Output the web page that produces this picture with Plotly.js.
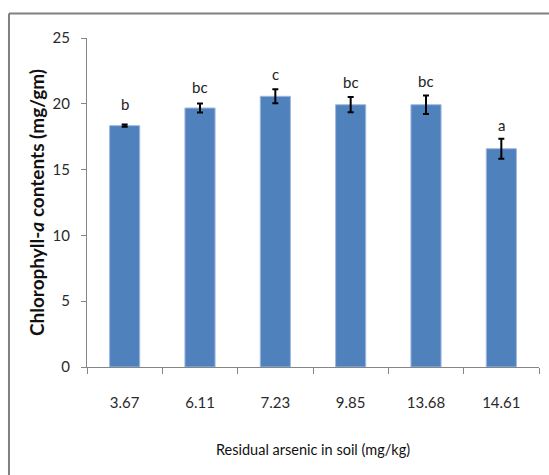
<!DOCTYPE html>
<html>
<head>
<meta charset="utf-8">
<script src="https://cdn.plot.ly/plotly-3.0.1.min.js"></script>
<style>
  html, body { margin: 0; padding: 0; background: #ffffff; }
  #chart { width: 549px; height: 475px; }
</style>
</head>
<body>
<div id="chart"></div>
<script>
const categories = ["3.67", "6.11", "7.23", "9.85", "13.68", "14.61"];
const chlorophyllA = [18.34, 19.68, 20.57, 19.93, 19.93, 16.59];
const errors = [0.08, 0.34, 0.53, 0.58, 0.70, 0.76];
const letters = ["b", "bc", "c", "bc", "bc", "a"];
const letterShift = [10, 6, 4, 4, 4, 3];

const FONT = "Lato, 'Liberation Sans Narrow', 'Noto Sans', sans-serif";

const trace = {
  type: "bar",
  x: categories,
  y: chlorophyllA,
  width: 0.4,
  marker: { color: "#4F81BD", line: { color: "#9DB9E0", width: 1 } },
  error_y: { type: "data", array: errors, visible: true, color: "#000000", thickness: 2, width: 3 },
  hoverinfo: "x+y"
};

const annotations = categories.map((c, i) => ({
  x: i,
  y: chlorophyllA[i] + errors[i],
  text: letters[i],
  showarrow: false,
  yanchor: "bottom",
  yshift: letterShift[i],
  font: { family: FONT, size: 15, color: "#222222" }
}));

const layout = {
  width: 549,
  height: 475,
  margin: { l: 87, r: 10, t: 38, b: 108 },
  paper_bgcolor: "#ffffff",
  plot_bgcolor: "#ffffff",
  showlegend: false,
  bargap: 0.6,
  xaxis: {
    type: "category",
    range: [-0.5, 5.5],
    showline: true,
    linecolor: "#868686",
    linewidth: 1,
    ticks: "outside",
    tickson: "boundaries",
    ticklen: 6,
    tickcolor: "#868686",
    tickangle: 0,
    ticklabelstandoff: 22,
    tickfont: { family: FONT, size: 15, color: "#2a2a2a" },
    title: { text: "Residual arsenic in soil (mg/kg)", font: { family: FONT, size: 14.5, color: "#111111" }, standoff: 34 },
    showgrid: false,
    zeroline: false
  },
  yaxis: {
    range: [0, 25],
    dtick: 5,
    tick0: 0,
    showline: true,
    linecolor: "#868686",
    linewidth: 1,
    ticks: "outside",
    ticklen: 5,
    tickcolor: "#868686",
    ticklabelstandoff: 8,
    tickfont: { family: FONT, size: 15, color: "#2a2a2a" },
    title: { text: "<b>Chlorophyll-<i>a</i> contents (mg/gm)</b>", font: { family: FONT, size: 19, color: "#111111" }, standoff: 2 },
    showgrid: false,
    zeroline: false
  },
  annotations: annotations,
  shapes: [
    { type: "line", xref: "paper", yref: "paper", x0: -0.1726, x1: 1.03, y0: 1.0745, y1: 1.0745, line: { color: "#808080", width: 2 } },
    { type: "line", xref: "paper", yref: "paper", x0: -0.1726, x1: -0.1726, y0: 1.0745, y1: -0.33, line: { color: "#808080", width: 2 } }
  ]
};

Plotly.newPlot("chart", [trace], layout, { displayModeBar: false, staticPlot: true });
</script>
</body>
</html>
